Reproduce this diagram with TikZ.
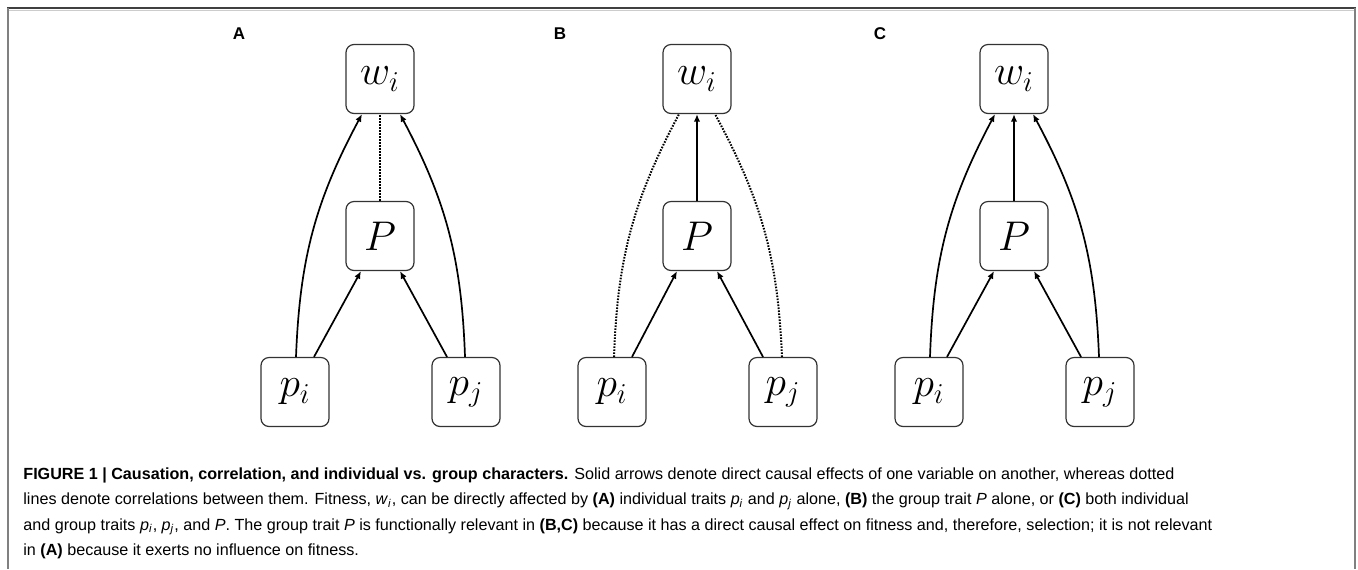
\documentclass[tikz,border=0pt]{standalone}
\usepackage{fontspec}
\newfontfamily\capfont{Liberation Sans}
\usetikzlibrary{arrows.meta}

\begin{document}
\begin{tikzpicture}[x=0.5pt,y=0.5pt,
box/.style={draw=black!80,line width=0.6pt,rounded corners=4pt,minimum width=34pt,minimum height=34.5pt,inner sep=0pt,font=\fontsize{22}{26}\selectfont},
cause/.style={-{Latex[length=3.8pt,width=3.2pt]},line width=0.85pt},
corr/.style={line width=1pt,dash pattern=on 0.8pt off 0.7pt},
panel/.style={font=\capfont\bfseries\fontsize{8.5}{10}\selectfont}]

\useasboundingbox (0,0) rectangle (1358,-569);
% frame
\draw[black!75,line width=0.9pt] (7,-8) -- (1356,-8);
\draw[black!20,line width=0.6pt] (9,-10.5) -- (1354,-10.5);
\draw[black!50,line width=1pt] (7.5,-8) -- (7.5,-569);
\draw[black!50,line width=1pt] (1355,-8) -- (1355,-569);

% same four boxes in each panel
\foreach \pan/\x/\lx in {A/380/239,B/697/560,C/1014/880}{
  \node[panel] (lab\pan) at (\lx,-34) {\pan};
  \node[box] (w\pan) at (\x,-79) {$w_i$};
  \node[box] (P\pan) at (\x,-236) {$P$};
  \node[box] (pi\pan) at (\x-85,-392) {$p_i$};
  \node[box] (pj\pan) at (\x+86,-392) {$p_j$};
}

% A: individual traits only
\draw[cause] ([xshift=0.5pt]piA.north) to[bend left=13] ([xshift=-9pt]wA.south);
\draw[cause] ([xshift=9.5pt]piA.north) -- ([xshift=-9.5pt]PA.south);
\draw[cause] ([xshift=-9.5pt]pjA.north) -- ([xshift=10pt]PA.south);
\draw[cause] ([xshift=-0.5pt]pjA.north) to[bend right=13] ([xshift=10pt]wA.south);
\draw[corr] (PA) -- (wA);

% B: group trait only
\draw[corr] ([xshift=1pt]piB.north) to[bend left=13] ([xshift=-9pt]wB.south);
\draw[cause] ([xshift=10pt]piB.north) -- ([xshift=-10pt]PB.south);
\draw[cause] ([xshift=-10pt]pjB.north) -- ([xshift=10pt]PB.south);
\draw[corr] ([xshift=-0.5pt]pjB.north) to[bend right=13] ([xshift=9pt]wB.south);
\draw[cause] (PB) -- (wB);

% C: both
\draw[cause] ([xshift=0.5pt]piC.north) to[bend left=13] ([xshift=-9.5pt]wC.south);
\draw[cause] ([xshift=9pt]piC.north) -- ([xshift=-10pt]PC.south);
\draw[cause] ([xshift=-9.5pt]pjC.north) -- ([xshift=10pt]PC.south);
\draw[cause] ([xshift=-0.5pt]pjC.north) to[bend right=13] ([xshift=9.5pt]wC.south);
\draw[cause] (PC) -- (wC);

% caption
\node[anchor=north west,inner sep=0pt,align=left,font=\capfont\fontsize{8.07}{12.8}\selectfont] (caption) at (23,-467)
{\textbf{FIGURE 1 | Causation, correlation, and individual vs. group characters.} Solid arrows denote direct causal effects of one variable on another, whereas dotted\\
lines denote correlations between them. Fitness, \textit{w}\textsubscript{\textit{i}}, can be directly affected by \textbf{(A)} individual traits \textit{p}\textsubscript{\textit{i}} and \textit{p}\textsubscript{\textit{j}} alone, \textbf{(B)} the group trait \textit{P} alone, or \textbf{(C)} both individual\\
and group traits \textit{p}\textsubscript{\textit{i}}, \textit{p}\textsubscript{\textit{j}}, and \textit{P}. The group trait \textit{P} is functionally relevant in \textbf{(B,C)} because it has a direct causal effect on fitness and, therefore, selection; it is not relevant\\
in \textbf{(A)} because it exerts no influence on fitness.};
\end{tikzpicture}
\end{document}
